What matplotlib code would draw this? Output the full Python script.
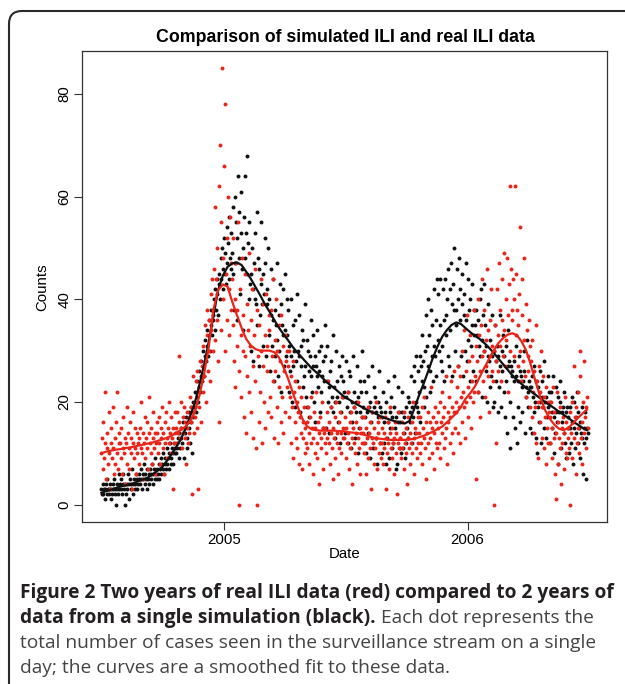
import numpy as np
import pandas as pd
import matplotlib
matplotlib.use("Agg")
import matplotlib.pyplot as plt
from matplotlib.patches import FancyBboxPatch
from matplotlib.transforms import IdentityTransform

# daily counts, one row = 4 weeks, first day 2004-07-01
start = "2004-07-01"
sim_counts = [
    3,2,4,2,3,1,3,4,2,5,3,2,3,4,1,3,2,4,3,5,2,3,0,4,3,2,6,3,
    4,3,5,2,4,6,3,4,0,2,4,3,6,4,1,5,3,4,7,4,2,5,4,3,6,5,3,4,
    5,6,4,7,5,3,6,5,8,4,6,5,7,3,5,6,4,7,6,5,8,4,6,7,5,9,6,5,
    7,6,8,5,7,9,6,8,7,10,6,8,9,7,11,8,9,7,10,12,8,9,11,10,8,12,10,11,
    10,12,11,13,9,14,11,13,15,12,14,16,9,15,14,17,11,13,16,18,15,12,19,16,10,20,17,19,
    19,22,18,21,24,20,23,26,22,25,28,24,27,30,25,29,32,28,31,34,29,33,36,30,35,38,33,37,
    36,40,34,42,38,44,41,37,45,43,40,48,44,50,42,46,52,45,49,43,54,47,51,44,56,48,53,46,
    49,58,45,38,60,47,55,36,52,64,48,57,41,53,61,46,50,34,56,48,64,53,45,68,51,40,55,43,
    45,30,50,42,28,47,40,53,39,57,35,48,27,46,37,43,55,39,31,45,41,52,47,29,42,39,50,33,
    40,26,37,46,31,36,44,24,29,38,35,47,32,25,30,37,43,39,22,35,33,42,27,34,45,29,33,40,
    38,22,31,26,40,29,20,27,35,30,19,36,28,41,24,30,29,37,18,31,27,34,23,32,25,39,27,21,
    32,19,30,26,17,29,25,36,22,27,33,20,29,16,27,25,34,23,26,30,18,22,31,25,15,28,24,35,
    29,15,24,31,20,23,14,26,19,28,21,33,18,23,13,20,30,21,24,16,27,20,12,25,18,29,21,24,
    22,14,21,28,19,12,22,26,25,18,11,16,20,29,19,22,13,20,18,27,10,21,15,24,18,22,30,17,
    19,12,24,17,22,10,18,25,14,19,9,20,16,27,18,11,19,23,21,13,18,8,20,17,26,19,12,18,
    17,10,22,16,12,18,8,20,13,24,16,9,18,15,21,11,17,12,25,19,15,7,17,8,16,23,18,11,
    16,10,18,22,11,17,14,9,12,19,15,21,13,20,16,18,25,12,19,17,27,24,14,20,29,19,26,18,
    22,29,16,27,24,33,28,19,23,30,37,21,31,27,40,33,22,26,38,29,35,24,31,42,29,36,25,44,
    32,41,30,35,44,28,26,31,42,36,24,44,37,33,40,46,29,27,42,34,47,39,25,43,38,50,30,35,
    38,46,27,40,48,36,42,29,45,39,25,41,37,30,47,36,28,32,44,38,24,40,31,43,35,26,33,38,
    35,24,38,33,22,36,31,40,29,42,32,21,37,30,43,35,26,31,20,29,39,28,32,23,25,37,29,19,
    30,20,35,28,24,31,18,29,23,37,27,19,30,26,33,22,29,17,24,31,14,27,34,28,20,11,27,25,
    26,17,28,24,15,25,31,12,19,24,29,26,16,25,23,18,24,30,26,14,23,21,32,19,22,24,15,23,
    23,14,25,21,18,27,20,24,13,10,19,23,16,26,20,12,24,21,19,15,28,20,13,21,17,25,19,22,
    20,12,22,18,15,25,17,10,14,23,18,16,21,8,18,24,20,11,18,16,19,14,22,12,18,9,19,15,
    17,10,19,15,12,21,16,8,20,15,11,17,14,22,12,18,15,9,16,14,19,13,6,15,12,18,5,13,
    15,14,
]
real_counts = [
    10,13,7,16,9,22,12,5,11,14,8,18,10,3,12,15,9,19,11,6,13,8,16,10,22,7,12,14,
    12,9,15,6,11,17,10,13,4,12,19,8,14,11,7,16,10,13,3,12,18,9,15,11,6,14,10,12,
    13,8,15,11,20,10,14,5,12,17,9,13,16,11,7,14,21,12,10,15,8,13,18,11,14,6,12,16,
    14,10,17,12,8,15,13,19,11,14,6,16,12,18,13,9,15,20,12,14,10,17,13,3,15,12,18,14,
    15,12,18,14,29,16,13,20,15,11,17,14,19,13,16,8,15,18,12,17,14,21,16,19,2,25,18,14,
    20,17,24,15,26,3,22,19,28,24,16,27,31,22,25,35,28,20,33,38,26,30,36,24,41,34,44,30,
    38,46,32,58,44,36,50,28,62,16,70,34,55,85,48,40,66,30,78,45,52,36,60,42,33,56,47,38,
    44,35,52,28,40,23,47,38,31,55,0,26,42,33,21,48,30,37,17,45,29,14,39,25,34,49,22,31,
    36,18,42,27,13,33,24,46,11,0,38,29,16,35,22,44,30,12,27,39,20,33,15,41,26,31,18,37,
    34,21,38,17,29,44,24,13,32,26,40,19,30,12,35,23,28,16,37,21,31,14,26,33,18,28,23,30,
    27,17,30,21,12,25,19,28,9,22,16,24,13,20,11,18,23,8,17,14,21,7,16,13,19,10,15,12,
    16,11,19,14,8,17,12,21,15,6,13,18,10,15,22,12,9,16,14,4,17,13,11,20,15,7,14,12,
    15,10,18,13,24,12,16,8,14,19,11,5,15,13,17,9,20,14,12,6,16,11,18,14,10,21,13,15,
    13,17,9,15,12,22,14,7,16,11,18,13,4,15,12,19,10,14,16,8,13,20,11,15,6,14,17,12,
    14,10,17,12,6,15,13,19,9,14,11,16,3,13,18,12,8,15,11,20,13,7,14,16,10,12,17,9,
    12,15,8,14,11,17,3,13,10,16,12,7,14,19,11,9,15,12,6,13,16,10,14,2,12,18,11,13,
    13,9,16,11,14,7,18,12,10,15,4,13,17,11,14,8,12,16,10,20,13,6,15,11,14,9,17,12,
    14,10,17,12,19,8,15,13,21,11,16,5,14,18,12,9,16,13,23,10,15,17,7,14,19,12,16,11,
    15,18,12,20,9,16,14,22,17,11,19,13,25,15,8,18,16,21,12,17,24,14,19,10,18,26,15,20,
    18,23,14,27,19,12,25,21,30,16,22,34,19,13,26,20,37,23,17,28,21,33,15,24,29,20,38,22,
    25,31,5,28,40,22,33,26,17,35,29,44,24,30,38,21,32,27,46,25,34,18,36,29,42,26,31,24,
    30,0,35,28,12,42,33,26,47,31,38,24,44,36,29,49,34,27,40,32,48,37,22,43,62,30,46,38,
    36,44,40,29,62,45,33,38,27,35,41,54,30,24,44,37,28,48,32,25,39,21,34,29,26,36,19,31,
    28,17,32,22,14,26,19,35,12,24,20,9,27,16,22,30,13,19,25,11,21,17,8,23,15,20,12,18,
    17,12,20,9,15,23,13,18,6,14,1,22,16,8,13,19,11,4,15,12,17,7,14,21,10,16,9,13,
    15,11,18,0,14,20,9,16,13,27,17,6,19,12,22,15,10,30,25,13,16,8,20,14,28,17,11,19,
    21,15,
]

# smoothed fits, read every 7 days
sim_smooth = [
    2.3, 2.6, 2.9, 3.2, 3.5, 3.7, 3.9, 4.2, 4.6, 4.9,
    5.3, 5.9, 6.6, 7.3, 8.5, 9.8, 11.2, 12.7, 14.8, 17.2,
    19.8, 23.4, 27.3, 31.8, 36.8, 41.8, 44.6, 46.3, 47.0, 47.2,
    46.7, 45.4, 44.0, 42.4, 40.8, 39.1, 37.6, 36.0, 34.5, 33.2,
    32.0, 30.7, 29.6, 28.6, 27.6, 26.6, 25.8, 25.0, 24.1, 23.3,
    22.6, 21.8, 21.0, 20.5, 19.9, 19.4, 18.9, 18.4, 18.0, 17.6,
    17.1, 16.8, 16.5, 16.2, 16.0, 15.8, 16.3, 18.6, 21.2, 23.5,
    26.0, 28.6, 30.8, 32.7, 34.0, 35.0, 35.5, 35.2, 34.4, 33.6,
    32.9, 32.3, 31.5, 30.6, 29.6, 28.5, 27.4, 26.3, 25.2, 24.3,
    23.5, 22.7, 22.1, 21.4, 20.7, 20.0, 19.4, 18.8, 18.1, 17.5,
    16.9, 16.2, 15.6, 15.0, 14.5,
]
real_smooth = [
    10.0, 10.3, 10.5, 10.7, 10.8, 11.0, 11.1, 11.3, 11.5, 11.7,
    11.9, 12.1, 12.4, 12.7, 13.0, 13.4, 14.0, 14.5, 15.2, 16.3,
    18.0, 21.3, 25.5, 30.8, 38.0, 41.8, 42.9, 42.5, 39.6, 37.0,
    34.5, 32.3, 31.0, 30.3, 30.0, 30.0, 30.0, 29.7, 28.7, 26.8,
    24.5, 21.8, 19.2, 16.8, 15.3, 14.7, 14.5, 14.4, 14.4, 14.4,
    14.4, 14.3, 14.3, 14.1, 14.0, 13.9, 13.7, 13.4, 13.1, 12.9,
    12.8, 12.7, 12.6, 12.6, 12.6, 12.6, 12.7, 12.8, 13.1, 13.4,
    13.8, 14.2, 14.7, 15.2, 16.0, 16.9, 17.8, 19.0, 20.6, 21.7,
    23.0, 24.8, 26.6, 28.3, 30.0, 31.4, 32.4, 33.1, 33.4, 33.0,
    31.8, 30.0, 27.2, 24.0, 21.0, 18.5, 16.8, 15.6, 14.8, 14.5,
    14.9, 15.8, 16.8, 17.7, 18.5,
]
year_ticks = ["2005-01-01", "2006-01-01"]
year_labels = ["2005", "2006"]
count_ticks = [0, 20, 40, 60, 80]

RED = "#ec2418"
BLK = "#111111"
W, H = 625, 684

plt.rcParams["font.family"] = ["Liberation Sans", "DejaVu Sans"]

sim_days = pd.date_range(start, periods=len(sim_counts), freq="D")
real_days = pd.date_range(start, periods=len(real_counts), freq="D")
sim_sdays = pd.date_range(start, periods=len(sim_smooth), freq="7D")
real_sdays = pd.date_range(start, periods=len(real_smooth), freq="7D")

fig = plt.figure(figsize=(W / 100, H / 100), dpi=100)
ax = fig.add_axes([82 / W, 1 - 522 / H, (607 - 82) / W, (522 - 51) / H])

ax.scatter(sim_days, sim_counts, s=8, c=BLK, linewidths=0, zorder=2)
ax.scatter(real_days, real_counts, s=8, c=RED, linewidths=0, zorder=3)
ax.plot(sim_sdays, sim_smooth, color=BLK, lw=1.6, zorder=4)
ax.plot(real_sdays, real_smooth, color=RED, lw=1.6, zorder=5)

# R style 4% padding
t0, t1 = pd.Timestamp(start), sim_days[-1]
pad = (t1 - t0) * 0.04
ax.set_xlim(t0 - pad, t1 + pad)
ymax = max(max(sim_counts), max(real_counts))
ax.set_ylim(-0.04 * ymax, 1.04 * ymax)

ax.set_xticks([pd.Timestamp(d) for d in year_ticks])
ax.set_xticklabels(year_labels)
ax.set_yticks(count_ticks)
ax.set_yticklabels([str(v) for v in count_ticks], rotation=90, va="center")
ax.tick_params(length=5.5, width=0.8, labelsize=10.8, color="#333333")
ax.tick_params(axis="x", pad=2.5)
ax.tick_params(axis="y", pad=2)
for sp in ax.spines.values():
    sp.set_linewidth(0.9)
    sp.set_color("#333333")

fig.text(345 / W, 1 - 37 / H, "Comparison of simulated ILI and real ILI data",
         ha="center", va="center", fontsize=12.8, fontweight="bold")
fig.text(345 / W, 1 - 554 / H, "Date", ha="center", va="center", fontsize=10.8)
fig.text(42 / W, 1 - 287 / H, "Counts", ha="center", va="center", rotation=90, fontsize=10.8)

# caption
cap = dict(fontsize=13.8, family=["Open Sans", "DejaVu Sans"])
fig.text(20 / W, 1 - 598 / H, "Figure 2 Two years of real ILI data (red) compared to 2 years of",
         fontweight="bold", color="#231f20", va="baseline", **cap)
b2 = fig.text(20 / W, 1 - 623 / H, "data from a single simulation (black).",
              fontweight="bold", color="#231f20", va="baseline", **cap)
fig.canvas.draw()
bb = b2.get_window_extent()
fig.text((bb.x1 + 5) / W, 1 - 623 / H, "Each dot represents the",
         color="#444444", va="baseline", **cap)
fig.text(20 / W, 1 - 648 / H, "total number of cases seen in the surveillance stream on a single",
         color="#444444", va="baseline", **cap)
fig.text(20 / W, 1 - 673 / H, "day; the curves are a smoothed fit to these data.",
         color="#444444", va="baseline", **cap)

frame = FancyBboxPatch((9, -40), W + 40, H - 11 + 40,
                       boxstyle="round,pad=0,rounding_size=13",
                       transform=IdentityTransform(), fill=False,
                       ec="#2a2a2a", lw=1.5)
fig.add_artist(frame)

fig.savefig("out.png", dpi=100)
